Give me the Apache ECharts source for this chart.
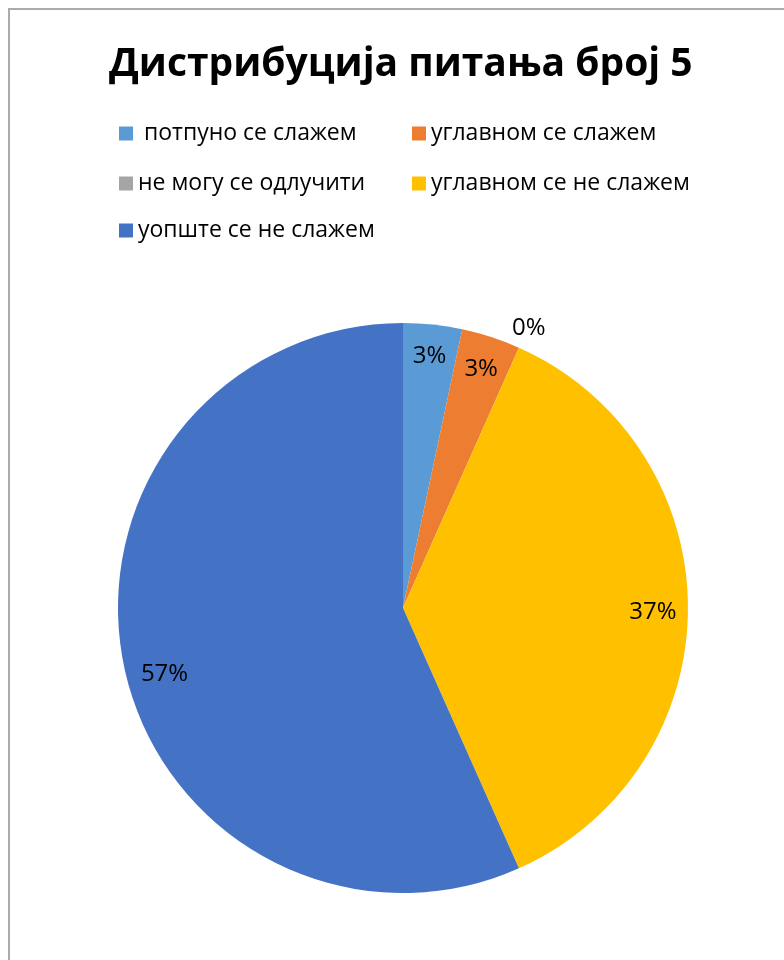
<!DOCTYPE html>
<html>
<head>
<meta charset="utf-8">
<script src="https://cdn.jsdelivr.net/npm/echarts@6/dist/echarts.min.js"></script>
<style>
  html, body { margin: 0; padding: 0; background: #fff; }
  #chart { width: 784px; height: 960px; }
</style>
</head>
<body>
<div id="chart"></div>
<script>
// Answer distribution for question 5
const chartTitle = 'Дистрибуција питања број 5';
const categories = [' потпуно се слажем', 'углавном се слажем', 'не могу се одлучити', 'углавном се не слажем', 'уопште се не слажем'];
const counts = [1, 1, 0, 11, 17];
const colors = ['#5B9BD5', '#ED7D31', '#A5A5A5', '#FFC000', '#4472C4'];

// legend slots: two columns, three rows
const legendLeft = [119, 412, 119, 412, 119];
const legendTop = [122, 122, 172, 172, 219];

const total = counts.reduce((a, b) => a + b, 0);
const pct = v => Math.round(v / total * 100) + '%';

const baseFont = '"Open Sans", "Noto Sans", sans-serif';

const pieData = categories.map((name, i) => ({
  name: name,
  value: counts[i],
  itemStyle: { color: colors[i] }
}));

// per-slice nudges of the percentage labels
const labelNudge = [[0, 0], [0, 2], [23, -49], [-3, 4], [9, 14]];

// label ring: transparent copy of the pie whose mid-radius places the labels near the rim
const labelData = categories.map((name, i) => ({
  name: name,
  value: counts[i],
  itemStyle: { color: 'rgba(0,0,0,0)' },
  label: { offset: labelNudge[i] }
}));

const legends = categories.map((name, i) => ({
  data: [name],
  left: legendLeft[i],
  top: legendTop[i],
  orient: 'horizontal',
  padding: 0,
  icon: 'rect',
  itemWidth: 14,
  itemHeight: 14,
  selectedMode: false,
  textStyle: { fontFamily: baseFont, fontSize: 23, color: '#000', lineHeight: 20 }
}));

const chart = echarts.init(document.getElementById('chart'), null, { renderer: 'canvas' });
chart.setOption({
  backgroundColor: '#fff',
  animation: false,
  title: {
    text: chartTitle,
    left: 109,
    top: 45,
    padding: 0,
    textStyle: { fontFamily: '"Liberation Sans Narrow", "Open Sans", sans-serif', fontWeight: 'bold', fontSize: 39, color: '#000' }
  },
  legend: legends,
  graphic: [{
    type: 'rect',
    shape: { x: 9, y: 9, width: 900, height: 1100 },
    style: { fill: 'none', stroke: '#ABABAB', lineWidth: 2 },
    silent: true
  }],
  series: [
    {
      type: 'pie',
      center: [403, 608],
      radius: [0, 285],
      startAngle: 90,
      clockwise: true,
      label: { show: false },
      labelLine: { show: false },
      emphasis: { disabled: true },
      data: pieData
    },
    {
      type: 'pie',
      center: [403, 608],
      radius: [215, 285],
      startAngle: 90,
      clockwise: true,
      silent: true,
      avoidLabelOverlap: false,
      minShowLabelAngle: 0,
      label: {
        show: true,
        position: 'inside',
        formatter: p => pct(p.value),
        fontFamily: baseFont,
        fontSize: 24,
        color: '#000'
      },
      labelLine: { show: false },
      emphasis: { disabled: true },
      data: labelData
    }
  ]
});
</script>
</body>
</html>
